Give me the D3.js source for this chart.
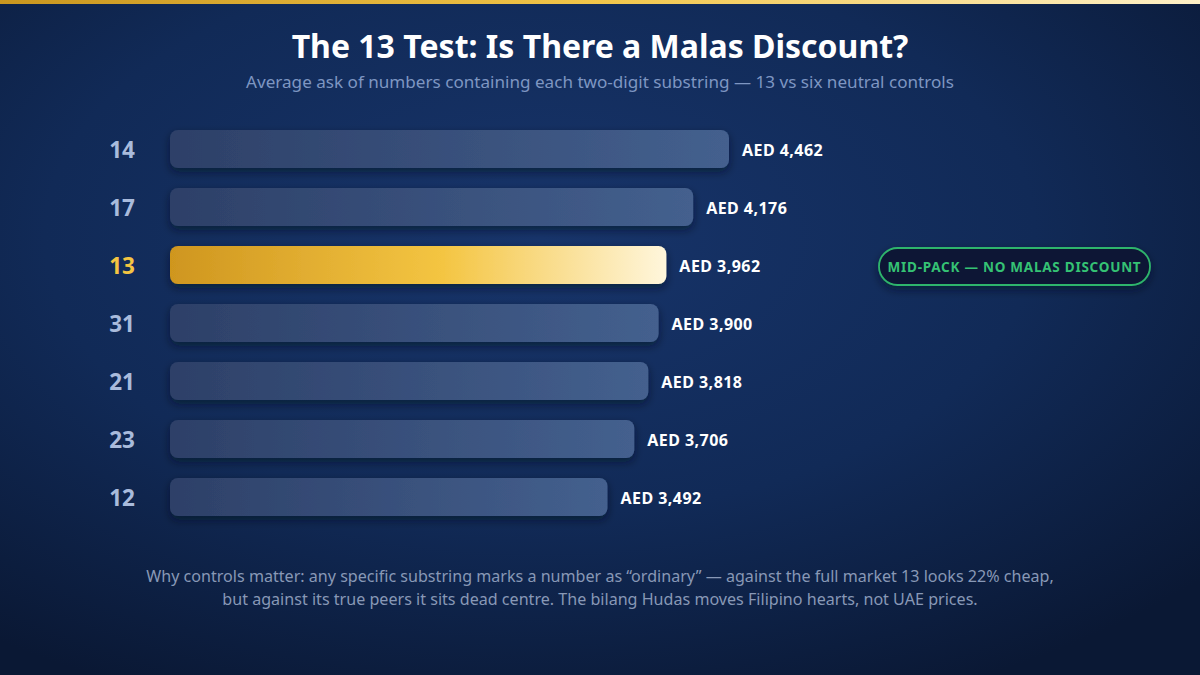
<!DOCTYPE html>
<html>
<head>
<meta charset="utf-8">
<script src="https://cdn.jsdelivr.net/npm/d3@7"></script>
<style>
  html, body { margin: 0; padding: 0; background: #0b1a3a; }
  svg { display: block; font-family: "Noto Sans", "Open Sans", sans-serif; }
</style>
</head>
<body>
<div class="main"></div>
<script>
// data
var substrings = ["14", "17", "13", "31", "21", "23", "12"];
var avgAsk = [4462, 4176, 3962, 3900, 3818, 3706, 3492];
var highlight = "13";
var footLines = [
  "Why controls matter: any specific substring marks a number as \u201cordinary\u201d \u2014 against the full market 13 looks 22% cheap,",
  "but against its true peers it sits dead centre. The bilang Hudas moves Filipino hearts, not UAE prices."
];

var width = 1200, height = 675;

var svg = d3.select("div.main").append("svg")
  .attr("width", width)
  .attr("height", height);

var defs = svg.append("defs");

// background
var bg = defs.append("radialGradient").attr("id", "bg")
  .attr("cx", "45%").attr("cy", "35%").attr("r", "75%");
bg.append("stop").attr("offset", "0%").attr("stop-color", "#17346a");
bg.append("stop").attr("offset", "55%").attr("stop-color", "#112a57");
bg.append("stop").attr("offset", "100%").attr("stop-color", "#0a1834");

var topLine = defs.append("linearGradient").attr("id", "topLine");
topLine.append("stop").attr("offset", "0%").attr("stop-color", "#c9961f");
topLine.append("stop").attr("offset", "50%").attr("stop-color", "#f2c64a");
topLine.append("stop").attr("offset", "100%").attr("stop-color", "#fff1c8");

var plain = defs.append("linearGradient").attr("id", "plainBar");
plain.append("stop").attr("offset", "0%").attr("stop-color", "#2d4068");
plain.append("stop").attr("offset", "100%").attr("stop-color", "#44608e");

var gold = defs.append("linearGradient").attr("id", "goldBar");
gold.append("stop").attr("offset", "0%").attr("stop-color", "#cf961f");
gold.append("stop").attr("offset", "55%").attr("stop-color", "#f4c542");
gold.append("stop").attr("offset", "100%").attr("stop-color", "#fff6dc");

var shadow = defs.append("filter").attr("id", "shadow")
  .attr("x", "-10%").attr("y", "-40%").attr("width", "120%").attr("height", "200%");
shadow.append("feDropShadow").attr("dx", 0).attr("dy", 4).attr("stdDeviation", 4)
  .attr("flood-color", "#050d20").attr("flood-opacity", 0.55);

svg.append("rect").attr("width", width).attr("height", height).attr("fill", "url(#bg)");
svg.append("rect").attr("width", width).attr("height", 4).attr("fill", "url(#topLine)");

// titles
svg.append("text")
  .attr("x", width / 2).attr("y", 58)
  .attr("text-anchor", "middle")
  .attr("fill", "#ffffff")
  .style("font-size", "32px").style("font-weight", 700)
  .text("The 13 Test: Is There a Malas Discount?");

svg.append("text")
  .attr("x", width / 2).attr("y", 88)
  .attr("text-anchor", "middle")
  .attr("fill", "#7e96c2")
  .style("font-size", "17.1px")
  .text("Average ask of numbers containing each two-digit substring \u2014 13 vs six neutral controls");

// scales
var x = d3.scaleLinear().domain([0, d3.max(avgAsk)]).range([170, 729]);
var y = d3.scaleBand().domain(substrings).range([130, 516]).paddingInner(20 / 58).paddingOuter(0);

var rows = svg.selectAll("g.row")
  .data(substrings)
  .enter().append("g")
  .attr("class", "row")
  .attr("transform", function(d) { return "translate(0," + y(d) + ")"; });

rows.append("rect")
  .attr("x", x(0))
  .attr("width", function(d, i) { return x(avgAsk[i]) - x(0); })
  .attr("height", y.bandwidth())
  .attr("rx", 8)
  .attr("fill", function(d) { return d == highlight ? "url(#goldBar)" : "url(#plainBar)"; })
  .attr("filter", "url(#shadow)");

rows.append("text")
  .attr("x", 122)
  .attr("y", y.bandwidth() / 2 + 1)
  .attr("dy", "0.36em")
  .attr("text-anchor", "middle")
  .attr("fill", function(d) { return d == highlight ? "#f4c542" : "#a9bbdc"; })
  .style("font-size", "22.5px").style("font-weight", 700)
  .text(function(d) { return d; });

rows.append("text")
  .attr("x", function(d, i) { return x(avgAsk[i]) + 13; })
  .attr("y", y.bandwidth() / 2 + 1)
  .attr("dy", "0.36em")
  .attr("fill", "#ffffff")
  .style("font-size", "16px").style("font-weight", 700)
  .style("letter-spacing", "0.45px")
  .text(function(d, i) { return "AED " + d3.format(",")(avgAsk[i]); });

// badge next to the highlighted bar
var badge = svg.append("g")
  .attr("transform", "translate(879," + (y(highlight) + 2) + ")");
badge.append("rect")
  .attr("width", 271).attr("height", 37).attr("rx", 18.5)
  .attr("fill", "#0e1834")
  .attr("stroke", "#2fb56c").attr("stroke-width", 1.8)
  .attr("filter", "url(#shadow)");
badge.append("text")
  .attr("x", 135.5).attr("y", 19).attr("dy", "0.36em")
  .attr("text-anchor", "middle")
  .attr("fill", "#35c274")
  .style("font-size", "13.5px").style("font-weight", 700)
  .style("letter-spacing", "0.75px")
  .text("MID-PACK \u2014 NO MALAS DISCOUNT");

// footnote
svg.selectAll("text.foot")
  .data(footLines)
  .enter().append("text")
  .attr("class", "foot")
  .attr("x", width / 2)
  .attr("y", function(d, i) { return 582 + i * 22.5; })
  .attr("text-anchor", "middle")
  .attr("fill", "#8898b6")
  .style("font-size", "16.1px")
  .text(function(d) { return d; });
</script>
</body>
</html>
